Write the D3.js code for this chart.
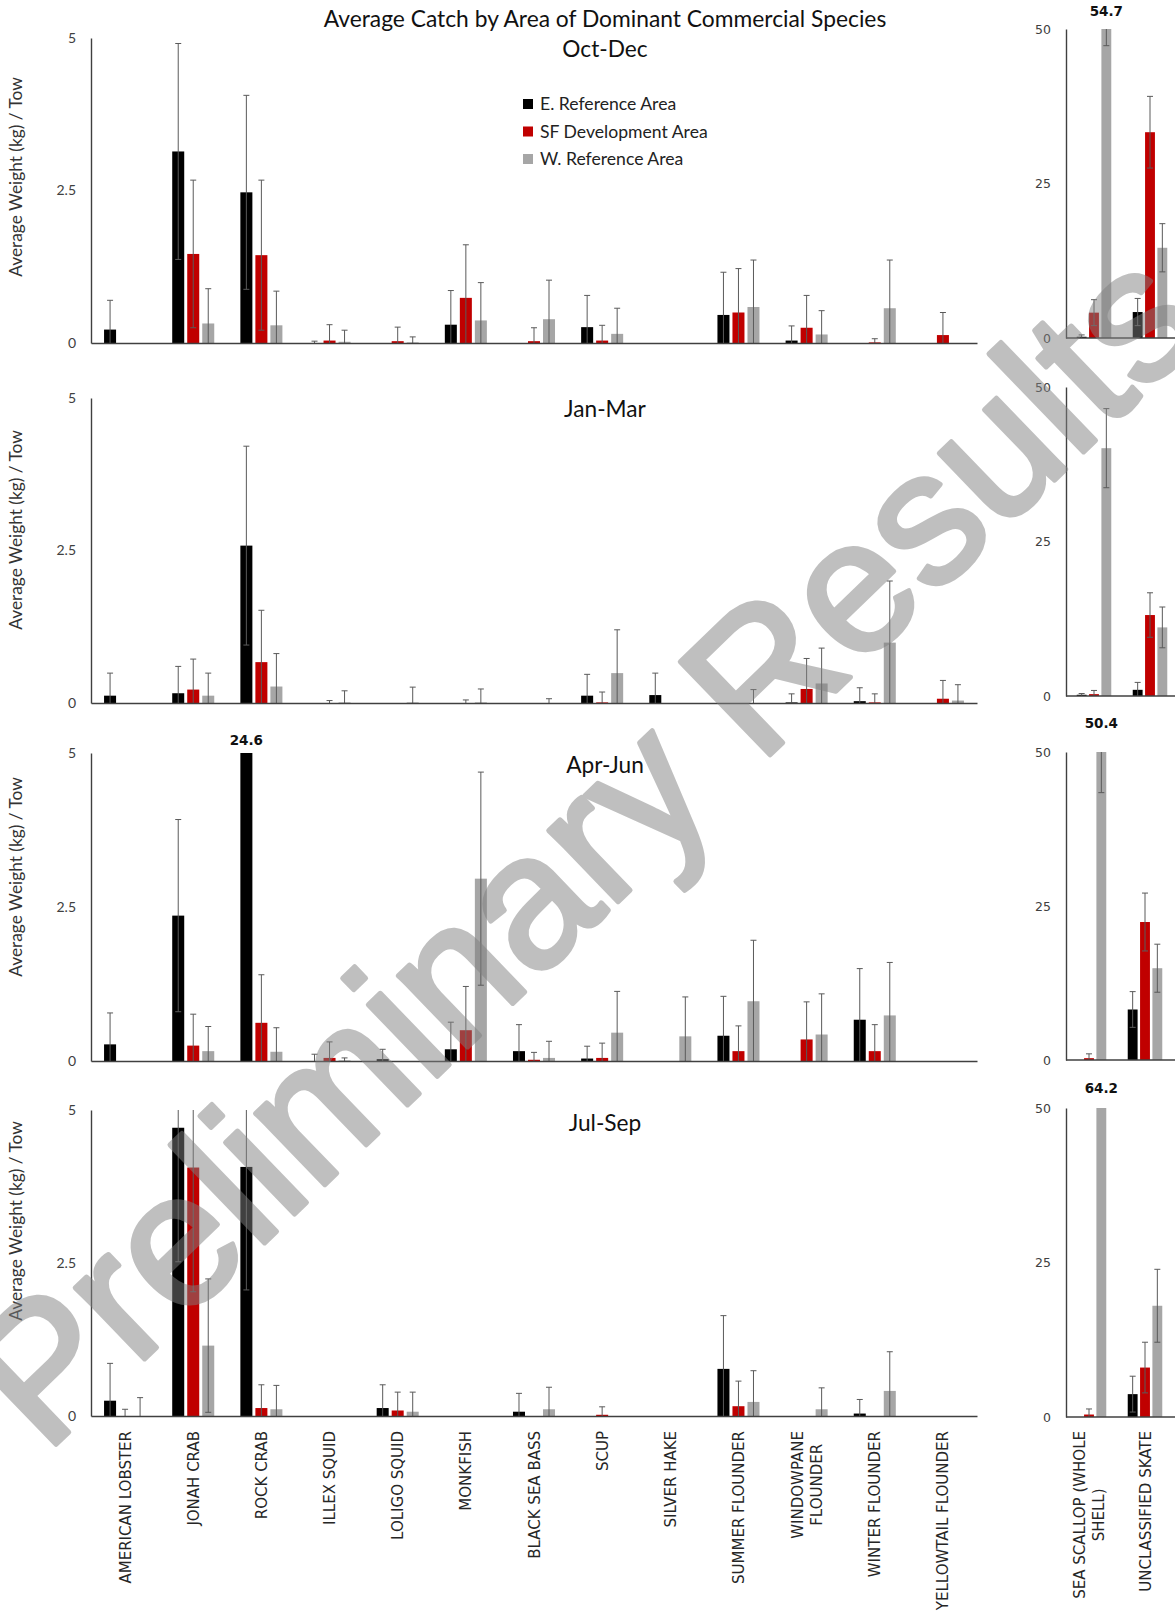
<!DOCTYPE html>
<html>
<head>
<meta charset="utf-8">
<script src="https://cdn.jsdelivr.net/npm/d3@7"></script>
<style>
  body { margin: 0; background: #fff; }
  svg { display: block; }
  .axis .domain { stroke: #404040; stroke-width: 1.4; }
  .axis text { fill: #404040; }
</style>
</head>
<body>
<div id="chart"></div>
<script>
!(function (d3) {

  // categories
  var species = ["AMERICAN LOBSTER", "JONAH CRAB", "ROCK CRAB", "ILLEX SQUID", "LOLIGO SQUID",
      "MONKFISH", "BLACK SEA BASS", "SCUP", "SILVER HAKE", "SUMMER FLOUNDER",
      "WINDOWPANE FLOUNDER", "WINTER FLOUNDER", "YELLOWTAIL FLOUNDER"];
  var bigSpecies = ["SEA SCALLOP (WHOLE SHELL)", "UNCLASSIFIED SKATE"];
  var areas = ["E. Reference Area", "SF Development Area", "W. Reference Area"];
  var areaColors = ["#000000", "#c00000", "#a6a6a6"];
  var seasons = ["Oct-Dec", "Jan-Mar", "Apr-Jun", "Jul-Sep"];
  var leftTicks = [0, 2.5, 5];
  var rightTicks = [0, 25, 50];

  // kg per tow, order = species then bigSpecies
  var octDecE     = [0.22, 3.14, 2.47, 0,    0,    0.30, 0,    0.26, 0, 0.46, 0.04, 0,    0,    0.2,  4.2];
  var octDecEErr  = [0.48, 1.77, 1.59, 0.03, 0,    0.56, 0,    0.52, 0, 0.70, 0.24, 0,    0,    0.3,  2.2];
  var octDecSF    = [0,    1.46, 1.44, 0.04, 0.03, 0.74, 0.03, 0.04, 0, 0.50, 0.25, 0.01, 0.13, 4.1,  33.3];
  var octDecSFErr = [0,    1.21, 1.23, 0.26, 0.23, 0.87, 0.22, 0.25, 0, 0.72, 0.53, 0.06, 0.37, 2.1,  5.8];
  var octDecW     = [0,    0.32, 0.29, 0.02, 0.01, 0.37, 0.39, 0.15, 0, 0.59, 0.14, 0.57, 0,    54.7, 14.6];
  var octDecWErr  = [0,    0.57, 0.56, 0.19, 0.09, 0.62, 0.64, 0.42, 0, 0.77, 0.39, 0.79, 0,    7.4,  3.9];

  var janMarE     = [0.12, 0.16, 2.58, 0,    0,    0,    0,    0.12, 0.13, 0,    0.01, 0.03, 0,    0.2,  1.0];
  var janMarEErr  = [0.37, 0.44, 1.63, 0,    0,    0,    0,    0.35, 0.36, 0,    0.14, 0.22, 0,    0.2,  1.2];
  var janMarSF    = [0,    0.22, 0.67, 0,    0,    0,    0,    0.01, 0,    0,    0.23, 0.01, 0.07, 0.3,  13.1];
  var janMarSFErr = [0,    0.50, 0.85, 0.04, 0,    0.05, 0,    0.17, 0,    0,    0.50, 0.14, 0.30, 0.6,  3.6];
  var janMarW     = [0,    0.12, 0.27, 0.01, 0.01, 0.01, 0,    0.49, 0,    0,    0.32, 0.99, 0.04, 40.1, 11.1];
  var janMarWErr  = [0,    0.37, 0.54, 0.19, 0.25, 0.22, 0.07, 0.71, 0,    0.22, 0.58, 1.01, 0.26, 6.4,  3.3];

  var aprJunE     = [0.27, 2.36, 24.6, 0,    0.03, 0.19, 0.16, 0.04, 0,    0.41, 0,    0.67, 0, 0,    8.2];
  var aprJunEErr  = [0.51, 1.56, 0,    0.11, 0.16, 0.44, 0.43, 0.20, 0,    0.64, 0,    0.83, 0, 0,    2.9];
  var aprJunSF    = [0,    0.25, 0.62, 0.05, 0,    0.50, 0.02, 0.05, 0,    0.16, 0.35, 0.16, 0, 0.3,  22.4];
  var aprJunSFErr = [0,    0.51, 0.78, 0.26, 0,    0.71, 0.12, 0.24, 0,    0.41, 0.61, 0.43, 0, 0.7,  4.7];
  var aprJunW     = [0,    0.16, 0.15, 0.01, 0,    2.96, 0.05, 0.46, 0.40, 0.97, 0.43, 0.74, 0, 50.4, 14.9];
  var aprJunWErr  = [0,    0.40, 0.39, 0.04, 0,    1.73, 0.27, 0.67, 0.64, 0.99, 0.66, 0.86, 0, 7.0,  3.9];

  var julSepE     = [0.25, 4.71, 4.07, 0, 0.13, 0, 0.07, 0,    0, 0.77, 0,    0.04, 0, 0,    3.7];
  var julSepEErr  = [0.61, 2.19, 2.01, 0, 0.38, 0, 0.30, 0,    0, 0.87, 0,    0.23, 0, 0,    2.9];
  var julSepSF    = [0,    4.06, 0.13, 0, 0.09, 0, 0,    0.02, 0, 0.16, 0,    0,    0, 0.4,  8.0];
  var julSepSFErr = [0.11, 2.03, 0.38, 0, 0.30, 0, 0,    0.13, 0, 0.41, 0,    0,    0, 0.9,  4.1];
  var julSepW     = [0,    1.15, 0.11, 0, 0.07, 0, 0.11, 0,    0, 0.23, 0.11, 0.41, 0, 64.2, 18.0];
  var julSepWErr  = [0.30, 1.09, 0.39, 0, 0.32, 0, 0.36, 0,    0, 0.51, 0.35, 0.64, 0, 0,    5.9];

  var values = [[octDecE, octDecSF, octDecW], [janMarE, janMarSF, janMarW],
                [aprJunE, aprJunSF, aprJunW], [julSepE, julSepSF, julSepW]];
  var errors = [[octDecEErr, octDecSFErr, octDecWErr], [janMarEErr, janMarSFErr, janMarWErr],
                [aprJunEErr, aprJunSFErr, aprJunWErr], [julSepEErr, julSepSFErr, julSepWErr]];

  var labelLines = {
    "WINDOWPANE FLOUNDER": ["WINDOWPANE", "FLOUNDER"],
    "SEA SCALLOP (WHOLE SHELL)": ["SEA SCALLOP (WHOLE", "SHELL)"]
  };

  // panel layout (overL / overR = gap between clipped bar and its value label)
  var panels = [
    {top: 38,   bottom: 343,  rTop: 29,   rBottom: 338,  rx: [1066, 1178], labelY: 177, titleY: 57,   overL: 8, overR: 13},
    {top: 398,  bottom: 703,  rTop: 387,  rBottom: 696,  rx: [1066, 1178], labelY: 530, titleY: 417,  overL: 8, overR: 13},
    {top: 753,  bottom: 1061, rTop: 752,  rBottom: 1060, rx: [1061, 1173], labelY: 877, titleY: 773,  overL: 8, overR: 24},
    {top: 1110, bottom: 1416, rTop: 1108, rBottom: 1417, rx: [1061, 1173], labelY: 1221, titleY: 1131, overL: 8, overR: 15}
  ];
  var leftX = [91, 977], rAxisX = 1066, width = 1175, height = 1621;
  var sans = "Lato, 'Open Sans', sans-serif";
  var verd = "'DejaVu Sans', Verdana, sans-serif";

  var svg = d3.select("#chart").append("svg")
      .attr("width", width)
      .attr("height", height);

  var allSpecies = species.concat(bigSpecies);

  panels.forEach(function(p, i) {
    var g = svg.append("g").attr("class", "panel");

    var yL = d3.scaleLinear().domain([0, 5]).range([p.bottom, p.top]);
    var yR = d3.scaleLinear().domain([0, 50]).range([p.rBottom, p.rTop]);
    var xL = d3.scaleBand().domain(species).range(leftX);
    var xR = d3.scaleBand().domain(bigSpecies).range(p.rx);
    var xInL = d3.scaleBand().domain(areas).range([0, xL.bandwidth()]).paddingInner(0.2).paddingOuter(0.87);
    var xInR = d3.scaleBand().domain(areas).range([0, xR.bandwidth()]).paddingInner(0.2).paddingOuter(0.87);

    var rows = [];
    allSpecies.forEach(function(sp, j) {
      var big = j >= species.length;
      areas.forEach(function(a, k) {
        rows.push({
          v: values[i][k][j], e: errors[i][k][j], k: k, big: big,
          x: big ? xR(sp) + xInR(a) : xL(sp) + xInL(a),
          w: big ? xInR.bandwidth() : xInL.bandwidth(),
          y: big ? yR : yL
        });
      });
    });

    // bars
    g.selectAll(".bar")
        .data(rows.filter(function(d) { return d.v > 0; }))
      .enter().append("rect")
        .attr("class", "bar")
        .attr("x", function(d) { return d.x; })
        .attr("width", function(d) { return d.w; })
        .attr("y", function(d) { return d.y(Math.min(d.v, d.y.domain()[1])); })
        .attr("height", function(d) { return d.y(0) - d.y(Math.min(d.v, d.y.domain()[1])); })
        .style("fill", function(d) { return areaColors[d.k]; });

    // error bars
    var eb = g.selectAll(".err")
        .data(rows.filter(function(d) { return d.e > 0 && d.v - d.e < d.y.domain()[1]; }))
      .enter().append("g")
        .attr("class", "err")
        .style("stroke", "#5a5a5a")
        .style("stroke-width", 1);

    eb.append("line")
        .attr("x1", function(d) { return d.x + d.w / 2; })
        .attr("x2", function(d) { return d.x + d.w / 2; })
        .attr("y1", function(d) { return d.y(Math.max(0, d.v - d.e)); })
        .attr("y2", function(d) { return d.y(Math.min(d.y.domain()[1], d.v + d.e)); });

    eb.filter(function(d) { return d.v + d.e <= d.y.domain()[1]; })
      .append("line")
        .attr("x1", function(d) { return d.x + d.w / 2 - 3; })
        .attr("x2", function(d) { return d.x + d.w / 2 + 3; })
        .attr("y1", function(d) { return d.y(d.v + d.e); })
        .attr("y2", function(d) { return d.y(d.v + d.e); });

    eb.filter(function(d) { return d.v - d.e > 0; })
      .append("line")
        .attr("x1", function(d) { return d.x + d.w / 2 - 3; })
        .attr("x2", function(d) { return d.x + d.w / 2 + 3; })
        .attr("y1", function(d) { return d.y(d.v - d.e); })
        .attr("y2", function(d) { return d.y(d.v - d.e); });

    // value labels on clipped bars
    g.selectAll(".over")
        .data(rows.filter(function(d) { return d.v > d.y.domain()[1]; }))
      .enter().append("text")
        .attr("class", "over")
        .attr("x", function(d) { return d.x + d.w / 2; })
        .attr("y", function(d) { return d.y(d.y.domain()[1]) - (d.big ? p.overR : p.overL); })
        .attr("text-anchor", "middle")
        .style("font-family", verd)
        .style("font-weight", "bold")
        .style("font-size", "13.5px")
        .style("fill", "#111")
        .text(function(d) { return d.v.toFixed(1); });

    // axes
    g.append("g")
        .attr("class", "axis")
        .attr("transform", "translate(" + leftX[0] + ",0)")
        .call(d3.axisLeft(yL).tickValues(leftTicks).tickSize(0).tickPadding(15).tickFormat(d3.format("~g")))
        .selectAll("text").style("font-family", sans).style("font-size", "14px");

    g.append("g")
        .attr("class", "axis")
        .attr("transform", "translate(0," + p.bottom + ")")
        .call(d3.axisBottom(xL).tickSize(0).tickFormat(""));

    g.append("g")
        .attr("class", "axis")
        .attr("transform", "translate(" + rAxisX + ",0)")
        .call(d3.axisLeft(yR).tickValues(rightTicks).tickSize(0).tickPadding(15))
        .selectAll("text").style("font-family", verd).style("font-size", "12.5px");

    g.append("line")
        .attr("x1", rAxisX).attr("x2", width)
        .attr("y1", p.rBottom).attr("y2", p.rBottom)
        .style("stroke", "#404040").style("stroke-width", 1.4);

    g.append("text")
        .attr("transform", "translate(22," + p.labelY + ") rotate(-90)")
        .attr("text-anchor", "middle")
        .style("font-family", sans)
        .style("font-size", "17.3px")
        .style("fill", "#333")
        .text("Average Weight (kg) / Tow");

    g.append("text")
        .attr("x", 605)
        .attr("y", p.titleY)
        .attr("text-anchor", "middle")
        .style("font-family", sans)
        .style("font-size", "22.7px")
        .style("fill", "#111")
        .text(seasons[i]);

    // category labels under the last panel
    if (i === panels.length - 1) {
      allSpecies.forEach(function(sp, j) {
        var big = j >= species.length;
        var cx = big ? xR(sp) + xR.bandwidth() / 2 : xL(sp) + xL.bandwidth() / 2;
        var lines = labelLines[sp] || [sp];
        var lab = svg.append("g")
            .attr("transform", "translate(" + cx + "," + (p.bottom + 15) + ") rotate(-90)");
        var texts = lines.map(function(line, n) {
          return lab.append("text")
              .attr("y", 5.5 + (n - (lines.length - 1) / 2) * 19)
              .attr("text-anchor", "end")
              .style("font-family", verd)
              .style("font-size", "15px")
              .style("fill", "#262626")
              .text(line);
        });
        var lens = texts.map(function(t) { return t.node().getComputedTextLength(); });
        var maxLen = d3.max(lens);
        texts.forEach(function(t, n) { t.attr("x", -(maxLen - lens[n]) / 2); });
      });
    }
  });

  // main title
  svg.append("text")
      .attr("x", 605)
      .attr("y", 27)
      .attr("text-anchor", "middle")
      .style("font-family", sans)
      .style("font-size", "22.8px")
      .style("fill", "#111")
      .text("Average Catch by Area of Dominant Commercial Species");

  // legend
  var legend = svg.selectAll(".legend")
      .data(areas)
    .enter().append("g")
      .attr("class", "legend")
      .attr("transform", function(d, k) { return "translate(523," + (104 + k * 27.5) + ")"; });

  legend.append("rect")
      .attr("x", 0).attr("y", -5)
      .attr("width", 10).attr("height", 10)
      .style("fill", function(d, k) { return areaColors[k]; });

  legend.append("text")
      .attr("x", 17)
      .attr("dy", "0.35em")
      .style("font-family", sans)
      .style("font-size", "17.6px")
      .style("fill", "#222")
      .text(function(d) { return d; });

  // watermark
  svg.append("text")
      .attr("transform", "translate(45,1455) rotate(-44)")
      .style("font-family", "'Liberation Sans', Arial, sans-serif")
      .style("font-size", "188px")
      .style("fill", "#808080")
      .style("stroke", "#808080")
      .style("stroke-width", 5)
      .style("stroke-linejoin", "round")
      .style("opacity", 0.5)
      .text("Preliminary Results");

})(d3);
</script>
</body>
</html>
